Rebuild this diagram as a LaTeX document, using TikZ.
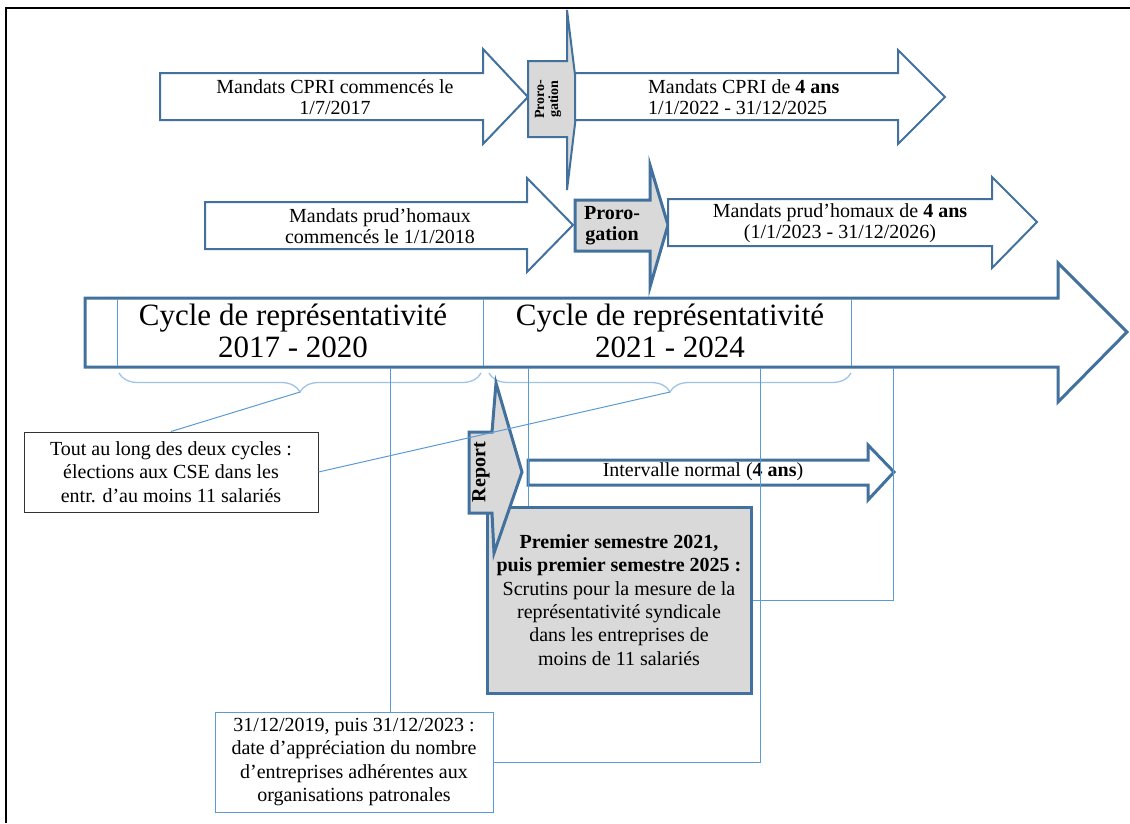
\documentclass[tikz,border=0pt]{standalone}
\usepackage{fontspec}
\setmainfont{Liberation Serif}
\usepackage{tikz}
\usetikzlibrary{decorations.pathreplacing}
\definecolor{arrowblue}{RGB}{65,113,156}
\definecolor{linkblue}{RGB}{91,155,213}
\definecolor{bracelight}{RGB}{157,195,230}
\definecolor{boxgray}{RGB}{217,217,217}
\newcommand{\txt}{\fontsize{20}{21}\selectfont}
\newcommand{\boxtxt}{\fontsize{20}{23.3}\selectfont}
\newcommand{\bigtxt}{\fontsize{31}{32}\selectfont}
\newcommand{\smalltxt}{\fontsize{14}{14}\selectfont}

\begin{document}
\begin{tikzpicture}[
    x=1pt, y=-1pt,
    band/.style={draw=arrowblue, line width=2pt, fill=white, line join=miter},
    heavyband/.style={band, line width=3pt},
    proro/.style={draw=arrowblue, line width=2.5pt, fill=boxgray, line join=miter},
    label/.style={font=\txt, align=center, inner sep=0pt},
    link/.style={draw=linkblue, line width=1pt},
    cue/.style={draw=bracelight, line width=1.3pt, decorate, decoration={brace, amplitude=19pt, mirror}},
    note/.style={line width=1pt, align=center, font=\boxtxt, inner sep=2pt}
]
\useasboundingbox (0,0) rectangle (1130,823);

% frame
\draw[line width=2.5pt] (6,823) -- (6,8) -- (1130,8);

% CPRI mandates
\draw[band] (160,73) -- (483,73) -- (483,49) -- (528,97) -- (483,144) -- (483,120) -- (160,120) -- cycle;
\node[label] (cpriold) at (335,97) {Mandats CPRI commencés le\\1/7/2017};
\draw[proro, line width=2pt] (528,61) -- (567,61) -- (567,10) -- (578,99) -- (567,190) -- (567,137) -- (528,137) -- cycle;
\node[label, rotate=90, font=\smalltxt\bfseries] (proro1) at (548,99) {Proro-\\gation};
\draw[band] (575,73) -- (898,73) -- (898,50) -- (945,97) -- (898,144) -- (898,120) -- (575,120) -- cycle;
\node[label, anchor=west, align=left] (cprinew) at (648,97) {Mandats CPRI de \textbf{4 ans}\\1/1/2022 - 31/12/2025};

% prud'homal mandates
\draw[band] (205,202) -- (527,202) -- (527,178) -- (573,225) -- (527,272) -- (527,249) -- (205,249) -- cycle;
\node[label] (prudold) at (380,226) {Mandats prud’homaux\\commencés le 1/1/2018};
\draw[proro, line width=3pt] (575,200) -- (650,200) -- (650,165) -- (668,225) -- (650,287) -- (650,251) -- (575,251) -- cycle;
\node[label, font=\txt\bfseries] (proro2) at (612,226) {Proro-\\gation};
\draw[band] (668,199) -- (992,199) -- (992,177) -- (1037,222) -- (992,268) -- (992,246) -- (668,246) -- cycle;
\node[label] (prudnew) at (840,223) {Mandats prud’homaux de \textbf{4 ans}\\(1/1/2023 - 31/12/2026)};

% representativity cycles
\draw[heavyband] (85,298) -- (1058,298) -- (1058,263) -- (1127,332) -- (1058,402) -- (1058,367) -- (85,367) -- cycle;
\draw[link] (117,299) -- (117,366);
\draw[link] (483,299) -- (483,366);
\draw[link] (851,299) -- (851,366);
\node[label, font=\bigtxt] (cycle1) at (293,331) {Cycle de représentativité\\2017 - 2020};
\node[label, font=\bigtxt] (cycle2) at (670,331) {Cycle de représentativité\\2021 - 2024};
\draw[cue] (119,373) -- (481,373);
\draw[cue] (489,373) -- (851,373);
\coordinate (b1) at (300,392);
\coordinate (b2) at (670,392);
\coordinate (c1) at (390,368);
\coordinate (c2) at (528,368);
\coordinate (c3) at (760,368);
\coordinate (c4) at (893,368);

% boxes
\node[note, draw=black!80, minimum width=294pt, minimum height=80pt] (tout) at (171,472)
    {Tout au long des deux cycles :\\élections aux CSE dans les\\entr. d’au moins 11 salariés};
\node[note, draw=linkblue, minimum width=278pt, minimum height=100pt] (date) at (354,762)
    {31/12/2019, puis 31/12/2023 :\\date d’appréciation du nombre\\d’entreprises adhérentes aux\\organisations patronales};
\node[note, draw=arrowblue, line width=3pt, fill=boxgray, minimum width=264pt, minimum height=186pt] (scrut) at (619,600)
    {\textbf{Premier semestre 2021,}\\\textbf{puis premier semestre 2025 :}\\Scrutins pour la mesure de la\\représentativité syndicale\\dans les entreprises de\\moins de 11 salariés};

% report and normal interval
\draw[proro, line width=3pt] (469,432) -- (492,432) -- (496,383) -- (522,472) -- (494,553) -- (492,513) -- (469,513) -- cycle;
\node[label, rotate=90, font=\txt\bfseries] (report) at (481,472) {Report};
\draw[heavyband] (528,460) -- (868,460) -- (868,445) -- (894,472) -- (868,500) -- (868,485) -- (528,485) -- cycle;
\node[label] (interval) at (703,472) {Intervalle normal (\textbf{4 ans})};

% links
\draw[link] (b1) -- (tout.north);
\draw[link] (b2) -- (tout.east);
\draw[link] (c1) -- (c1 |- date.north);
\draw[link] (c2) -- (c2 |- scrut.north);
\draw[link] (c3) |- (date.east);
\draw[link] (c4) |- (scrut.east);

\end{tikzpicture}
\end{document}
